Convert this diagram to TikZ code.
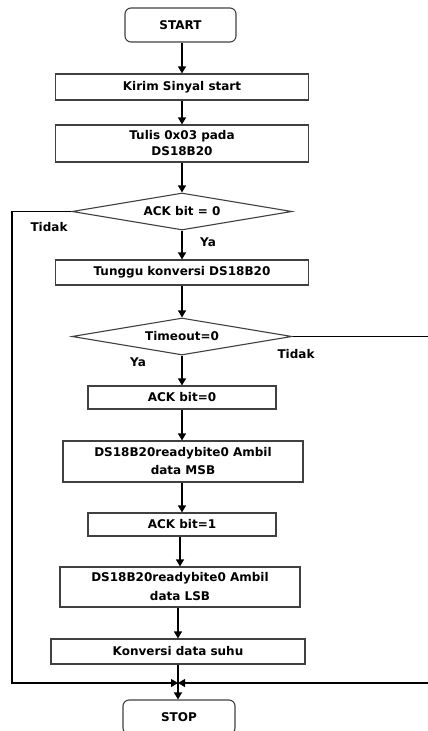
\documentclass[tikz,border=0pt]{standalone}
\usepackage{fontspec}
\setmainfont{DejaVu Sans}
\usetikzlibrary{shapes.geometric,arrows.meta}

\begin{document}
\begin{tikzpicture}[x=1pt,y=-1pt,
  font=\fontsize{12}{16}\selectfont\bfseries,
  proses/.style={draw=black!75, line width=1.1pt, minimum width=253pt, minimum height=25pt, inner sep=0, align=center},
  terminal/.style={proses, rounded corners=6pt, minimum width=111pt, minimum height=34pt},
  keputusan/.style={diamond, aspect=6, draw=black!75, line width=1.1pt, minimum width=220pt, minimum height=37pt, inner sep=0},
  panah/.style={-{Triangle[width=8pt,length=7pt]}, line width=1.1pt},
  garis/.style={line width=1.1pt}]

\useasboundingbox (0,0) rectangle (428,731);
\clip (0,0) rectangle (428,731);

\node[terminal] (start) at (180.5,25) {START};
\node[proses, minimum height=26pt] (kirim) at (182,87) {Kirim Sinyal start};
\node[proses, minimum height=37pt] (tulis) at (182,143.5) {Tulis 0x03 pada\\DS18B20};
\node[keputusan] (ack) at (182,211.5) {ACK bit = 0};
\node[proses] (tunggu) at (182,272.5) {Tunggu konversi DS18B20};
\node[keputusan] (timeout) at (182,336.5) {Timeout=0};
\node[proses, minimum width=188pt, minimum height=23pt] (nol) at (182,397.5) {ACK bit=0};
\node[proses, minimum width=240pt, minimum height=41pt, font=\fontsize{12}{18}\selectfont\bfseries] (msb) at (183,461.5) {DS18B20readybite0 Ambil\\data MSB};
\node[proses, minimum width=188pt, minimum height=23pt] (satu) at (182,524.5) {ACK bit=1};
\node[proses, minimum width=240pt, minimum height=40pt, font=\fontsize{12}{19}\selectfont\bfseries] (lsb) at (180,587) {DS18B20readybite0 Ambil\\data LSB};
\node[proses, minimum width=254pt] (konv) at (178,651.5) {Konversi data suhu};
\coordinate (temu) at (178,683);
\node[terminal, minimum width=112pt] (stop) at (179,717) {STOP};

% label cabang
\node (tidakA) at (49,227) {Tidak};
\node (yaA) at (208,242) {Ya};
\node (tidakB) at (296,354) {Tidak};
\node (yaB) at (138,362) {Ya};

\draw[panah] (start.south -| kirim) -- (kirim);
\draw[panah] (kirim) -- (tulis);
\draw[panah] (tulis) -- (ack);
\draw[panah] (ack) -- (tunggu);
\draw[panah] (tunggu) -- (timeout);
\draw[panah] (timeout) -- (nol);
\draw[panah] (nol) -- (nol.south |- msb.north);
\draw[panah] (msb.south -| satu) -- (satu);
\draw[panah] (satu.south -| lsb) -- (lsb);
\draw[panah] (lsb.south -| konv) -- (konv);
\draw[garis] (konv) -- (temu);
\draw[panah] (temu) -- (temu |- stop.north);

\draw[panah] (ack.west) -- (12,211.5) -- (12,683) -- (temu);
\draw[panah] (timeout.east) -- (440,336.5) -- (440,683) -- (temu);

\end{tikzpicture}
\end{document}
